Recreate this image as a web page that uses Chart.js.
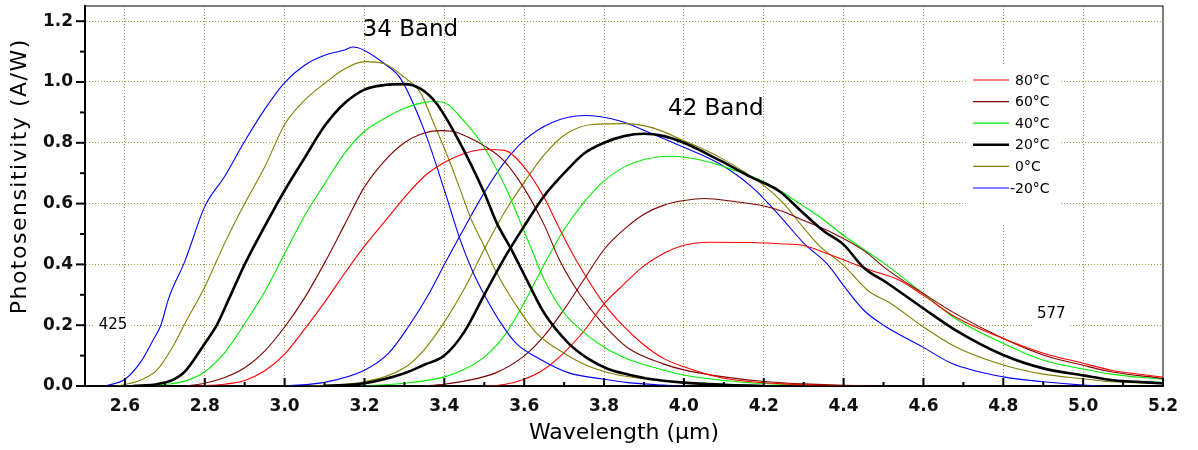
<!DOCTYPE html>
<html>
<head>
<meta charset="utf-8">
<script src="https://cdn.jsdelivr.net/npm/chart.js@4.4.1/dist/chart.umd.min.js"></script>
<style>
  html, body { margin: 0; padding: 0; background: #fff; }
  #wrap { width: 1198px; height: 450px; }
</style>
</head>
<body>
<div id="wrap"><canvas id="myChart"></canvas></div>
<script>
// legend names and line colours, one per temperature
const temps = ["80°C", "60°C", "40°C", "20°C", "0°C", "-20°C"];
const colors = ["#ff0000", "#800000", "#00ee00", "#000000", "#808000", "#0000ff"];

// [wavelength um, A/W], 34 band
const band34_80 = [[2.78,0],[2.85,0.006],[2.9,0.018],[2.95,0.05],[3.0,0.105],[3.05,0.187],[3.1,0.275],[3.15,0.37],[3.2,0.46],[3.25,0.54],[3.3,0.62],[3.35,0.69],[3.4,0.735],[3.45,0.765],[3.5,0.778],[3.55,0.775],[3.6,0.72],[3.65,0.62],[3.68,0.54],[3.715,0.45],[3.75,0.37],[3.8,0.27],[3.85,0.195],[3.9,0.135],[3.95,0.09],[4.0,0.063],[4.09,0.028],[4.17,0.014],[4.25,0.007],[4.35,0.002],[4.4,0]];
const band34_60 = [[2.75,0],[2.8,0.009],[2.85,0.028],[2.9,0.06],[2.95,0.115],[3.0,0.194],[3.05,0.29],[3.1,0.405],[3.15,0.53],[3.2,0.655],[3.25,0.74],[3.3,0.8],[3.35,0.832],[3.39,0.84],[3.42,0.838],[3.46,0.818],[3.5,0.79],[3.55,0.74],[3.6,0.65],[3.65,0.53],[3.69,0.41],[3.74,0.3],[3.8,0.2],[3.86,0.125],[3.95,0.072],[4.0,0.053],[4.1,0.03],[4.2,0.015],[4.3,0.007],[4.4,0.002],[4.5,0]];
const band34_40 = [[2.66,0],[2.7,0.005],[2.75,0.016],[2.8,0.047],[2.85,0.11],[2.9,0.205],[2.95,0.31],[3.0,0.435],[3.05,0.56],[3.1,0.665],[3.15,0.765],[3.2,0.838],[3.25,0.88],[3.3,0.914],[3.35,0.933],[3.38,0.936],[3.41,0.925],[3.44,0.885],[3.49,0.805],[3.53,0.715],[3.56,0.635],[3.59,0.54],[3.62,0.445],[3.65,0.35],[3.7,0.24],[3.76,0.165],[3.81,0.12],[3.86,0.088],[3.95,0.052],[4.0,0.036],[4.1,0.018],[4.2,0.008],[4.35,0.002],[4.45,0]];
const band34_20 = [[2.62,0],[2.68,0.006],[2.72,0.02],[2.75,0.047],[2.8,0.14],[2.83,0.2],[2.86,0.285],[2.9,0.4],[2.95,0.525],[3.0,0.643],[3.05,0.75],[3.1,0.855],[3.15,0.93],[3.2,0.975],[3.25,0.99],[3.3,0.993],[3.34,0.978],[3.38,0.93],[3.435,0.81],[3.5,0.636],[3.53,0.54],[3.57,0.444],[3.61,0.34],[3.65,0.24],[3.71,0.142],[3.76,0.09],[3.81,0.056],[3.86,0.038],[3.92,0.022],[4.0,0.011],[4.1,0.004],[4.2,0]];
const band34_0 = [[2.58,0],[2.6,0.005],[2.64,0.02],[2.68,0.052],[2.72,0.13],[2.75,0.205],[2.8,0.326],[2.85,0.47],[2.9,0.6],[2.95,0.72],[3.0,0.86],[3.05,0.94],[3.1,0.995],[3.15,1.043],[3.2,1.067],[3.25,1.06],[3.3,1.015],[3.34,0.965],[3.37,0.875],[3.41,0.75],[3.44,0.645],[3.47,0.54],[3.5,0.46],[3.53,0.375],[3.58,0.265],[3.63,0.175],[3.7,0.108],[3.76,0.066],[3.83,0.038],[3.9,0.024],[4.0,0.011],[4.1,0.004],[4.2,0]];
const band34_m20 = [[2.55,0],[2.6,0.022],[2.64,0.08],[2.67,0.15],[2.69,0.2],[2.71,0.29],[2.75,0.41],[2.8,0.59],[2.85,0.69],[2.9,0.805],[2.95,0.91],[3.0,0.998],[3.05,1.055],[3.1,1.088],[3.15,1.105],[3.17,1.115],[3.2,1.104],[3.25,1.06],[3.29,1.012],[3.35,0.84],[3.4,0.645],[3.44,0.48],[3.47,0.38],[3.5,0.3],[3.54,0.21],[3.58,0.14],[3.64,0.088],[3.71,0.044],[3.8,0.022],[3.86,0.011],[3.95,0.003],[4.0,0]];

// 42 band
const band42_80 = [[3.5,0],[3.55,0.005],[3.6,0.022],[3.65,0.055],[3.7,0.11],[3.75,0.181],[3.8,0.27],[3.85,0.335],[3.9,0.395],[3.95,0.437],[4.0,0.463],[4.06,0.473],[4.17,0.472],[4.24,0.468],[4.3,0.462],[4.35,0.44],[4.4,0.415],[4.47,0.38],[4.54,0.348],[4.6,0.298],[4.68,0.227],[4.8,0.156],[4.9,0.108],[5.0,0.075],[5.07,0.052],[5.2,0.029]];
const band42_60 = [[3.34,0],[3.4,0.006],[3.45,0.016],[3.53,0.044],[3.6,0.099],[3.65,0.165],[3.7,0.252],[3.75,0.351],[3.8,0.449],[3.85,0.515],[3.9,0.565],[3.95,0.595],[4.0,0.61],[4.05,0.617],[4.13,0.606],[4.2,0.592],[4.25,0.573],[4.29,0.55],[4.37,0.505],[4.45,0.446],[4.51,0.382],[4.6,0.304],[4.68,0.238],[4.8,0.156],[4.9,0.102],[5.0,0.068],[5.07,0.047],[5.2,0.025]];
const band42_40 = [[3.19,0],[3.3,0.009],[3.4,0.03],[3.45,0.055],[3.5,0.095],[3.55,0.165],[3.6,0.274],[3.65,0.4],[3.7,0.515],[3.75,0.605],[3.8,0.675],[3.85,0.72],[3.9,0.745],[3.97,0.756],[4.05,0.741],[4.13,0.708],[4.2,0.672],[4.25,0.635],[4.29,0.6],[4.35,0.547],[4.4,0.495],[4.45,0.45],[4.5,0.405],[4.6,0.304],[4.68,0.222],[4.8,0.14],[4.9,0.085],[5.0,0.056],[5.07,0.039],[5.2,0.022]];
const band42_20 = [[3.1,0],[3.2,0.009],[3.3,0.042],[3.35,0.07],[3.4,0.1],[3.45,0.178],[3.5,0.3],[3.55,0.42],[3.6,0.526],[3.65,0.625],[3.7,0.7],[3.75,0.765],[3.8,0.8],[3.85,0.822],[3.9,0.83],[3.95,0.822],[4.0,0.8],[4.09,0.742],[4.17,0.686],[4.24,0.64],[4.29,0.58],[4.35,0.51],[4.4,0.465],[4.45,0.39],[4.51,0.338],[4.6,0.255],[4.68,0.184],[4.8,0.102],[4.9,0.058],[5.0,0.035],[5.07,0.02],[5.2,0.009]];
const band42_0 = [[3.05,0],[3.2,0.014],[3.3,0.06],[3.35,0.12],[3.4,0.21],[3.45,0.32],[3.5,0.45],[3.55,0.57],[3.6,0.67],[3.65,0.76],[3.7,0.825],[3.77,0.86],[3.85,0.863],[3.92,0.85],[4.0,0.807],[4.09,0.752],[4.2,0.66],[4.25,0.6],[4.3,0.52],[4.34,0.46],[4.4,0.397],[4.46,0.315],[4.52,0.27],[4.6,0.194],[4.68,0.129],[4.8,0.069],[4.9,0.039],[5.0,0.024],[5.07,0.014],[5.2,0.009]];
const band42_m20 = [[3.0,0],[3.1,0.012],[3.2,0.052],[3.26,0.107],[3.31,0.195],[3.36,0.3],[3.4,0.4],[3.45,0.52],[3.5,0.636],[3.55,0.735],[3.6,0.808],[3.67,0.867],[3.75,0.89],[3.84,0.872],[3.92,0.83],[4.0,0.785],[4.09,0.73],[4.17,0.655],[4.24,0.56],[4.3,0.47],[4.36,0.4],[4.4,0.33],[4.45,0.25],[4.5,0.2],[4.6,0.127],[4.67,0.075],[4.8,0.03],[4.9,0.014],[5.0,0.003],[5.05,0]];

const band34 = [band34_80, band34_60, band34_40, band34_20, band34_0, band34_m20];
const band42 = [band42_80, band42_60, band42_40, band42_20, band42_0, band42_m20];

// text labels on the plot
const bandLabels = [["34 Band", 3.315, 1.17], ["42 Band", 4.08, 0.91]];
const markLabels = [["425", 2.57, 0.2], ["577", 4.92, 0.235]];
const yTitle = "Photosensitivity (A/W)";

const FONT = "'DejaVu Sans', sans-serif";
const isMajor = (v) => Math.round(v * 10) % 2 === 0;

function makeSet(points, i) {
  return {
    label: temps[i],
    data: points.map((p) => ({ x: p[0], y: p[1] })),
    borderColor: colors[i],
    borderWidth: i === 3 ? 2.6 : 1.1,
    pointRadius: 0,
    fill: false,
    cubicInterpolationMode: "monotone",
    order: i === 3 ? 0 : 1,
  };
}

const datasets = [];
band34.forEach((pts, i) => datasets.push(makeSet(pts, i)));
band42.forEach((pts, i) => datasets.push(makeSet(pts, i)));

// white boxes + texts under the curves
const underPlugin = {
  id: "under",
  beforeDatasetsDraw(chart) {
    const c = chart.ctx;
    const xs = chart.scales.x, ys = chart.scales.y;
    c.save();
    c.font = "15px " + FONT;
    c.textAlign = "center";
    c.textBaseline = "middle";
    markLabels.forEach(([t, x, y]) => {
      const px = xs.getPixelForValue(x), py = ys.getPixelForValue(y);
      const w = c.measureText(t).width + 8;
      c.fillStyle = "#fff";
      c.fillRect(px - w / 2, py - 12, w, 24);
      c.fillStyle = "#000";
      c.fillText(t, px, py);
    });
    c.restore();
  },
  afterDatasetsDraw(chart) {
    const c = chart.ctx;
    const xs = chart.scales.x, ys = chart.scales.y;
    const area = chart.chartArea;
    c.save();
    // band titles
    c.font = "23px " + FONT;
    c.fillStyle = "#000";
    c.textAlign = "center";
    c.textBaseline = "middle";
    bandLabels.forEach(([t, x, y]) => {
      c.fillText(t, xs.getPixelForValue(x), ys.getPixelForValue(y));
    });
    // y title, sits a bit above the middle of the axis
    c.save();
    c.translate(20, ys.getPixelForValue(0.69));
    c.rotate(-Math.PI / 2);
    c.font = "22px " + FONT;
    c.letterSpacing = "1.5px";
    c.fillText(yTitle, 0, 0);
    c.restore();
    // legend box
    const lx = 968, ly = 64, lw = 92, lh = 159;
    c.fillStyle = "#fff";
    c.fillRect(lx, ly, lw, lh);
    c.font = "14px " + FONT;
    c.textAlign = "left";
    temps.forEach((t, i) => {
      const y = 80 + i * 21.6;
      c.beginPath();
      c.strokeStyle = colors[i];
      c.lineWidth = i === 3 ? 2.6 : 1.2;
      c.moveTo(lx + 5, y);
      c.lineTo(lx + 41, y);
      c.stroke();
      c.fillStyle = "#000";
      c.fillText(t, i === 5 ? lx + 42 : lx + 47, y + 1);
    });
    // frame
    c.strokeStyle = "#000";
    c.lineWidth = 1;
    c.strokeRect(area.left, area.top, area.right - area.left, area.bottom - area.top);
    // ticks: x inward, y outward
    c.lineWidth = 2;
    xs.ticks.forEach((t) => {
      const px = xs.getPixelForValue(t.value);
      const len = isMajor(t.value) ? 8 : 4;
      c.beginPath();
      c.moveTo(px, area.bottom);
      c.lineTo(px, area.bottom - len);
      c.stroke();
    });
    ys.ticks.forEach((t) => {
      const py = ys.getPixelForValue(t.value);
      const len = isMajor(t.value) ? 9 : 5;
      c.beginPath();
      c.moveTo(area.left, py);
      c.lineTo(area.left - len, py);
      c.stroke();
    });
    c.restore();
  },
};

const gridDots = "#9c9c30";

new Chart(document.getElementById("myChart"), {
  type: "line",
  data: { datasets: datasets },
  plugins: [underPlugin],
  options: {
    responsive: true,
    maintainAspectRatio: false,
    animation: false,
    layout: { padding: { top: 6, right: 35, left: 0, bottom: 0 } },
    plugins: { legend: { display: false }, tooltip: { enabled: false } },
    scales: {
      x: {
        type: "linear",
        min: 2.5,
        max: 5.2,
        afterFit: (s) => { s.height = 64; s.paddingLeft = 0; s.paddingRight = 0; },
        ticks: {
          stepSize: 0.1,
          autoSkip: false,
          maxRotation: 0,
          includeBounds: false,
          padding: 10,
          color: "#111",
          font: { family: FONT, size: 17, weight: "bold" },
          callback: (v) => (isMajor(v) && v > 2.55 ? v.toFixed(1) : ""),
        },
        grid: {
          drawTicks: false,
          color: (ctx) => {
            const v = ctx.tick ? ctx.tick.value : 0;
            return isMajor(v) && v > 2.55 && v < 5.15 ? gridDots : "transparent";
          },
          lineWidth: 1,
        },
        border: { display: true, color: "#000", width: 2, dash: [1, 2] },
        title: {
          display: true,
          text: "Wavelength (μm)",
          color: "#000",
          font: { family: FONT, size: 22 },
          padding: { top: 0, bottom: 4 },
        },
      },
      y: {
        min: 0,
        max: 1.25,
        afterFit: (s) => { s.width = 85; s.paddingTop = 0; s.paddingBottom = 0; },
        ticks: {
          stepSize: 0.1,
          autoSkip: false,
          includeBounds: false,
          padding: 12,
          color: "#111",
          font: { family: FONT, size: 17, weight: "bold" },
          callback: (v) => (isMajor(v) ? v.toFixed(1) : ""),
        },
        grid: {
          drawTicks: false,
          color: (ctx) => {
            const v = ctx.tick ? ctx.tick.value : 0;
            return isMajor(v) && v > 0.05 ? gridDots : "transparent";
          },
          lineWidth: 1,
        },
        border: { display: true, color: "#000", width: 2, dash: [1, 2] },
        title: { display: false },
      },
    },
  },
});
</script>
</body>
</html>
